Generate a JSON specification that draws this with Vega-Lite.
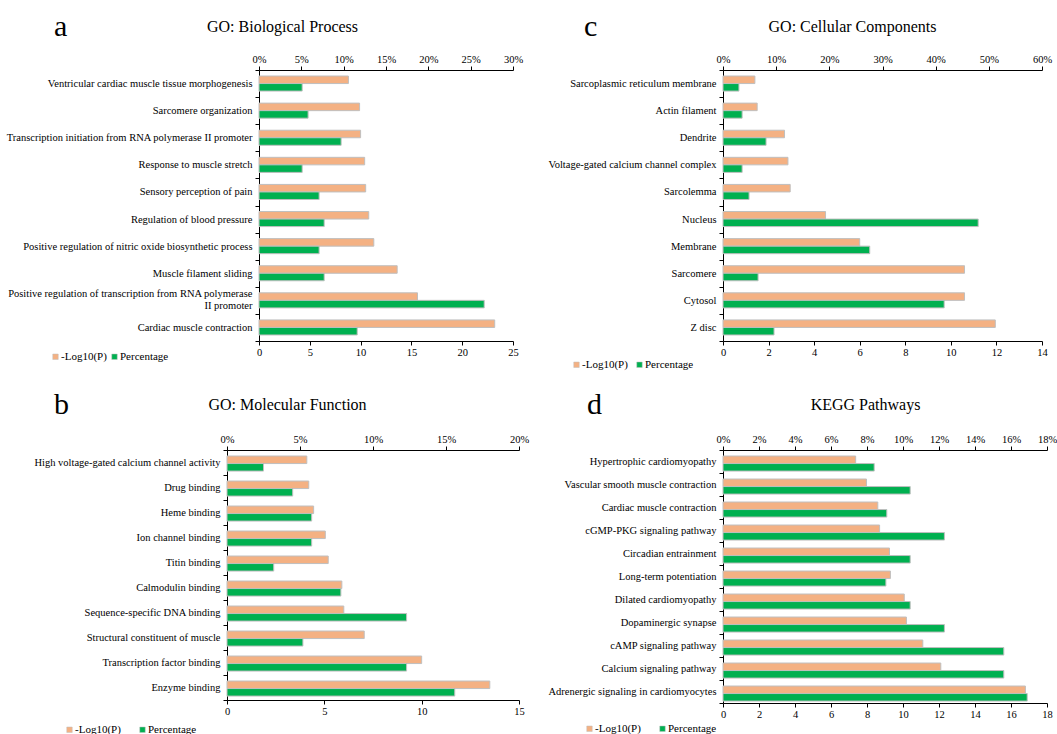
{
  "$schema": "https://vega.github.io/schema/vega-lite/v6.json",
  "background": "white",
  "padding": {"left": 5, "top": 12, "right": 0, "bottom": 0},
  "columns": 2,
  "spacing": {"row": 20, "column": 10},
  "align": "each",
  "resolve": {"scale": {"color": "independent"}, "legend": {"color": "independent"}},
  "config": {
    "view": {"stroke": null},
    "font": "Liberation Serif",
    "axis": {"labelFont": "Liberation Serif", "labelFontSize": 10.5, "labelColor": "#000", "domainColor": "#000", "tickColor": "#000", "grid": false, "tickSize": 4, "labelFlush": false, "titleFont": "Liberation Serif", "titleFontWeight": "normal", "titleColor": "#000", "titleFontSize": 16},
    "legend": {"labelFont": "Liberation Serif", "labelFontSize": 11, "labelColor": "#000", "symbolType": "square", "symbolSize": 30, "symbolStrokeColor": "#BFBFBF", "symbolStrokeWidth": 0.5, "columnPadding": 8, "labelOffset": 0},
    "title": {"font": "Liberation Serif", "fontWeight": "normal", "fontSize": 30, "color": "#000", "anchor": "start", "frame": "group"}
  },
  "datasets": {
    "bp": [
      {"term": "Ventricular cardiac muscle tissue morphogenesis", "series": "-Log10(P)", "value": 8.8},
      {"term": "Ventricular cardiac muscle tissue morphogenesis", "series": "Percentage", "value": 5.1},
      {"term": "Sarcomere organization", "series": "-Log10(P)", "value": 9.9},
      {"term": "Sarcomere organization", "series": "Percentage", "value": 5.8},
      {"term": "Transcription initiation from RNA polymerase II promoter", "series": "-Log10(P)", "value": 10.0},
      {"term": "Transcription initiation from RNA polymerase II promoter", "series": "Percentage", "value": 9.7},
      {"term": "Response to muscle stretch", "series": "-Log10(P)", "value": 10.4},
      {"term": "Response to muscle stretch", "series": "Percentage", "value": 5.1},
      {"term": "Sensory perception of pain", "series": "-Log10(P)", "value": 10.5},
      {"term": "Sensory perception of pain", "series": "Percentage", "value": 7.1},
      {"term": "Regulation of blood pressure", "series": "-Log10(P)", "value": 10.8},
      {"term": "Regulation of blood pressure", "series": "Percentage", "value": 7.7},
      {"term": "Positive regulation of nitric oxide biosynthetic process", "series": "-Log10(P)", "value": 11.3},
      {"term": "Positive regulation of nitric oxide biosynthetic process", "series": "Percentage", "value": 7.1},
      {"term": "Muscle filament sliding", "series": "-Log10(P)", "value": 13.6},
      {"term": "Muscle filament sliding", "series": "Percentage", "value": 7.7},
      {"term": "Positive regulation of transcription from RNA polymerase II promoter", "series": "-Log10(P)", "value": 15.6},
      {"term": "Positive regulation of transcription from RNA polymerase II promoter", "series": "Percentage", "value": 26.6},
      {"term": "Cardiac muscle contraction", "series": "-Log10(P)", "value": 23.2},
      {"term": "Cardiac muscle contraction", "series": "Percentage", "value": 11.6}
    ],
    "cc": [
      {"term": "Sarcoplasmic reticulum membrane", "series": "-Log10(P)", "value": 1.4},
      {"term": "Sarcoplasmic reticulum membrane", "series": "Percentage", "value": 3.0},
      {"term": "Actin filament", "series": "-Log10(P)", "value": 1.5},
      {"term": "Actin filament", "series": "Percentage", "value": 3.6},
      {"term": "Dendrite", "series": "-Log10(P)", "value": 2.7},
      {"term": "Dendrite", "series": "Percentage", "value": 8.1},
      {"term": "Voltage-gated calcium channel complex", "series": "-Log10(P)", "value": 2.85},
      {"term": "Voltage-gated calcium channel complex", "series": "Percentage", "value": 3.6},
      {"term": "Sarcolemma", "series": "-Log10(P)", "value": 2.95},
      {"term": "Sarcolemma", "series": "Percentage", "value": 4.9},
      {"term": "Nucleus", "series": "-Log10(P)", "value": 4.5},
      {"term": "Nucleus", "series": "Percentage", "value": 48.0},
      {"term": "Membrane", "series": "-Log10(P)", "value": 6.0},
      {"term": "Membrane", "series": "Percentage", "value": 27.6},
      {"term": "Sarcomere", "series": "-Log10(P)", "value": 10.6},
      {"term": "Sarcomere", "series": "Percentage", "value": 6.6},
      {"term": "Cytosol", "series": "-Log10(P)", "value": 10.6},
      {"term": "Cytosol", "series": "Percentage", "value": 41.6},
      {"term": "Z disc", "series": "-Log10(P)", "value": 11.95},
      {"term": "Z disc", "series": "Percentage", "value": 9.6}
    ],
    "mf": [
      {"term": "High voltage-gated calcium channel activity", "series": "-Log10(P)", "value": 4.1},
      {"term": "High voltage-gated calcium channel activity", "series": "Percentage", "value": 2.5},
      {"term": "Drug binding", "series": "-Log10(P)", "value": 4.2},
      {"term": "Drug binding", "series": "Percentage", "value": 4.5},
      {"term": "Heme binding", "series": "-Log10(P)", "value": 4.45},
      {"term": "Heme binding", "series": "Percentage", "value": 5.8},
      {"term": "Ion channel binding", "series": "-Log10(P)", "value": 5.05},
      {"term": "Ion channel binding", "series": "Percentage", "value": 5.8},
      {"term": "Titin binding", "series": "-Log10(P)", "value": 5.2},
      {"term": "Titin binding", "series": "Percentage", "value": 3.2},
      {"term": "Calmodulin binding", "series": "-Log10(P)", "value": 5.9},
      {"term": "Calmodulin binding", "series": "Percentage", "value": 7.8},
      {"term": "Sequence-specific DNA binding", "series": "-Log10(P)", "value": 6.0},
      {"term": "Sequence-specific DNA binding", "series": "Percentage", "value": 12.3},
      {"term": "Structural constituent of muscle", "series": "-Log10(P)", "value": 7.05},
      {"term": "Structural constituent of muscle", "series": "Percentage", "value": 5.2},
      {"term": "Transcription factor binding", "series": "-Log10(P)", "value": 10.0},
      {"term": "Transcription factor binding", "series": "Percentage", "value": 12.3},
      {"term": "Enzyme binding", "series": "-Log10(P)", "value": 13.5},
      {"term": "Enzyme binding", "series": "Percentage", "value": 15.6}
    ],
    "kegg": [
      {"term": "Hypertrophic cardiomyopathy", "series": "-Log10(P)", "value": 7.37},
      {"term": "Hypertrophic cardiomyopathy", "series": "Percentage", "value": 8.4},
      {"term": "Vascular smooth muscle contraction", "series": "-Log10(P)", "value": 7.97},
      {"term": "Vascular smooth muscle contraction", "series": "Percentage", "value": 10.4},
      {"term": "Cardiac muscle contraction", "series": "-Log10(P)", "value": 8.6},
      {"term": "Cardiac muscle contraction", "series": "Percentage", "value": 9.1},
      {"term": "cGMP-PKG signaling pathway", "series": "-Log10(P)", "value": 8.7},
      {"term": "cGMP-PKG signaling pathway", "series": "Percentage", "value": 12.3},
      {"term": "Circadian entrainment", "series": "-Log10(P)", "value": 9.25},
      {"term": "Circadian entrainment", "series": "Percentage", "value": 10.4},
      {"term": "Long-term potentiation", "series": "-Log10(P)", "value": 9.3},
      {"term": "Long-term potentiation", "series": "Percentage", "value": 9.05},
      {"term": "Dilated cardiomyopathy", "series": "-Log10(P)", "value": 10.07},
      {"term": "Dilated cardiomyopathy", "series": "Percentage", "value": 10.4},
      {"term": "Dopaminergic synapse", "series": "-Log10(P)", "value": 10.19},
      {"term": "Dopaminergic synapse", "series": "Percentage", "value": 12.3},
      {"term": "cAMP signaling pathway", "series": "-Log10(P)", "value": 11.1},
      {"term": "cAMP signaling pathway", "series": "Percentage", "value": 15.6},
      {"term": "Calcium signaling pathway", "series": "-Log10(P)", "value": 12.1},
      {"term": "Calcium signaling pathway", "series": "Percentage", "value": 15.6},
      {"term": "Adrenergic signaling in cardiomyocytes", "series": "-Log10(P)", "value": 16.8},
      {"term": "Adrenergic signaling in cardiomyocytes", "series": "Percentage", "value": 16.9}
    ]
  },
  "concat": [
    {
      "width": 286, "height": 271,
      "data": {"name": "bp"},
      "title": {"text": "a", "dx": -173, "dy": 28},
      "encoding": {
        "y": {"field": "term", "type": "nominal", "sort": null, "scale": {"paddingInner": 0, "paddingOuter": 0}, "axis": {"title": null, "offset": -32, "minExtent": 254, "maxExtent": 254, "tickBand": "extent", "labelPadding": 3, "labelLimit": 400, "labelLineHeight": 12.5,
          "labelOffset": {"condition": {"test": "datum.value == 'Positive regulation of transcription from RNA polymerase II promoter'", "value": -7}, "value": 0},
          "labelExpr": "datum.value == 'Positive regulation of transcription from RNA polymerase II promoter' ? ['Positive regulation of transcription from RNA polymerase', 'II promoter'] : datum.label"}},
        "yOffset": {"field": "series", "type": "nominal", "scale": {"domain": ["-Log10(P)", "Percentage"], "paddingInner": 0, "paddingOuter": 0.8}},
        "color": {"field": "series", "type": "nominal", "scale": {"domain": ["-Log10(P)", "Percentage"], "range": ["#F4B183", "#00B050"]}, "legend": {"title": null, "orient": "none", "direction": "horizontal", "legendX": -177, "legendY": 281, "columnPadding": 2}}
      },
      "layer": [
        {"transform": [{"filter": "datum.series === '-Log10(P)'"}], "mark": {"type": "bar", "stroke": "#BFBFBF", "strokeWidth": 1}, "encoding": {"x": {"field": "value", "type": "quantitative", "scale": {"domain": [0, 25], "nice": false, "range": [32, 286]}, "axis": {"orient": "bottom", "title": null, "values": [0, 5, 10, 15, 20, 25]}}}},
        {"transform": [{"filter": "datum.series === 'Percentage'"}], "mark": {"type": "bar", "stroke": "#BFBFBF", "strokeWidth": 1}, "encoding": {"x": {"field": "value", "type": "quantitative", "scale": {"domain": [0, 30], "nice": false, "range": [32, 286]}, "axis": {"orient": "top", "title": "GO: Biological Process", "titleX": 55, "titleY": -44, "titleBaseline": "middle", "titleAlign": "center", "values": [0, 5, 10, 15, 20, 25, 30], "labelExpr": "datum.value + '%'"}}}}
      ],
      "resolve": {"scale": {"x": "independent"}}
    },
    {
      "width": 319, "height": 271,
      "data": {"name": "cc"},
      "title": {"text": "c", "dx": -139, "dy": 28},
      "encoding": {
        "y": {"field": "term", "type": "nominal", "sort": null, "scale": {"paddingInner": 0, "paddingOuter": 0}, "axis": {"title": null, "minExtent": 184, "maxExtent": 184, "tickBand": "extent", "labelPadding": 3, "labelLimit": 400}},
        "yOffset": {"field": "series", "type": "nominal", "scale": {"domain": ["-Log10(P)", "Percentage"], "paddingInner": 0, "paddingOuter": 0.8}},
        "color": {"field": "series", "type": "nominal", "scale": {"domain": ["-Log10(P)", "Percentage"], "range": ["#F4B183", "#00B050"]}, "legend": {"title": null, "orient": "none", "direction": "horizontal", "legendX": -152, "legendY": 289, "columnPadding": 6}}
      },
      "layer": [
        {"transform": [{"filter": "datum.series === '-Log10(P)'"}], "mark": {"type": "bar", "stroke": "#BFBFBF", "strokeWidth": 1}, "encoding": {"x": {"field": "value", "type": "quantitative", "scale": {"domain": [0, 14], "nice": false}, "axis": {"orient": "bottom", "title": null, "values": [0, 2, 4, 6, 8, 10, 12, 14]}}}},
        {"transform": [{"filter": "datum.series === 'Percentage'"}], "mark": {"type": "bar", "stroke": "#BFBFBF", "strokeWidth": 1}, "encoding": {"x": {"field": "value", "type": "quantitative", "scale": {"domain": [0, 60], "nice": false}, "axis": {"orient": "top", "title": "GO: Cellular Components", "titleX": 129, "titleY": -44, "titleBaseline": "middle", "titleAlign": "center", "values": [0, 10, 20, 30, 40, 50, 60], "labelExpr": "datum.value + '%'"}}}}
      ],
      "resolve": {"scale": {"x": "independent"}}
    },
    {
      "width": 292, "height": 250,
      "data": {"name": "mf"},
      "title": {"text": "b", "dx": -173, "dy": 28},
      "encoding": {
        "y": {"field": "term", "type": "nominal", "sort": null, "scale": {"paddingInner": 0, "paddingOuter": 0}, "axis": {"title": null, "minExtent": 222, "maxExtent": 222, "tickBand": "extent", "labelPadding": 3, "labelLimit": 400}},
        "yOffset": {"field": "series", "type": "nominal", "scale": {"domain": ["-Log10(P)", "Percentage"], "paddingInner": 0, "paddingOuter": 0.69}},
        "color": {"field": "series", "type": "nominal", "scale": {"domain": ["-Log10(P)", "Percentage"], "range": ["#F4B183", "#00B050"]}, "legend": {"title": null, "orient": "none", "direction": "horizontal", "legendX": -163, "legendY": 274, "columnPadding": 16}}
      },
      "layer": [
        {"transform": [{"filter": "datum.series === '-Log10(P)'"}], "mark": {"type": "bar", "stroke": "#BFBFBF", "strokeWidth": 1}, "encoding": {"x": {"field": "value", "type": "quantitative", "scale": {"domain": [0, 15], "nice": false}, "axis": {"orient": "bottom", "title": null, "values": [0, 5, 10, 15]}}}},
        {"transform": [{"filter": "datum.series === 'Percentage'"}], "mark": {"type": "bar", "stroke": "#BFBFBF", "strokeWidth": 1}, "encoding": {"x": {"field": "value", "type": "quantitative", "scale": {"domain": [0, 20], "nice": false}, "axis": {"orient": "top", "title": "GO: Molecular Function", "titleX": 60, "titleY": -46, "titleBaseline": "middle", "titleAlign": "center", "values": [0, 5, 10, 15, 20], "labelExpr": "datum.value + '%'"}}}}
      ],
      "resolve": {"scale": {"x": "independent"}}
    },
    {
      "width": 324, "height": 253,
      "data": {"name": "kegg"},
      "title": {"text": "d", "dx": -136, "dy": 28},
      "encoding": {
        "y": {"field": "term", "type": "nominal", "sort": null, "scale": {"paddingInner": 0, "paddingOuter": 0}, "axis": {"title": null, "minExtent": 184, "maxExtent": 184, "tickBand": "extent", "labelPadding": 3, "labelLimit": 400}},
        "yOffset": {"field": "series", "type": "nominal", "scale": {"domain": ["-Log10(P)", "Percentage"], "paddingInner": 0, "paddingOuter": 0.64}},
        "color": {"field": "series", "type": "nominal", "scale": {"domain": ["-Log10(P)", "Percentage"], "range": ["#F4B183", "#00B050"]}, "legend": {"title": null, "orient": "none", "direction": "horizontal", "legendX": -139, "legendY": 273, "columnPadding": 16}}
      },
      "layer": [
        {"transform": [{"filter": "datum.series === '-Log10(P)'"}], "mark": {"type": "bar", "stroke": "#BFBFBF", "strokeWidth": 1}, "encoding": {"x": {"field": "value", "type": "quantitative", "scale": {"domain": [0, 18], "nice": false}, "axis": {"orient": "bottom", "title": null, "values": [0, 2, 4, 6, 8, 10, 12, 14, 16, 18]}}}},
        {"transform": [{"filter": "datum.series === 'Percentage'"}], "mark": {"type": "bar", "stroke": "#BFBFBF", "strokeWidth": 1}, "encoding": {"x": {"field": "value", "type": "quantitative", "scale": {"domain": [0, 18], "nice": false}, "axis": {"orient": "top", "title": "KEGG Pathways", "titleX": 142, "titleY": -46, "titleBaseline": "middle", "titleAlign": "center", "values": [0, 2, 4, 6, 8, 10, 12, 14, 16, 18], "labelExpr": "datum.value + '%'"}}}}
      ],
      "resolve": {"scale": {"x": "independent"}}
    }
  ]
}
